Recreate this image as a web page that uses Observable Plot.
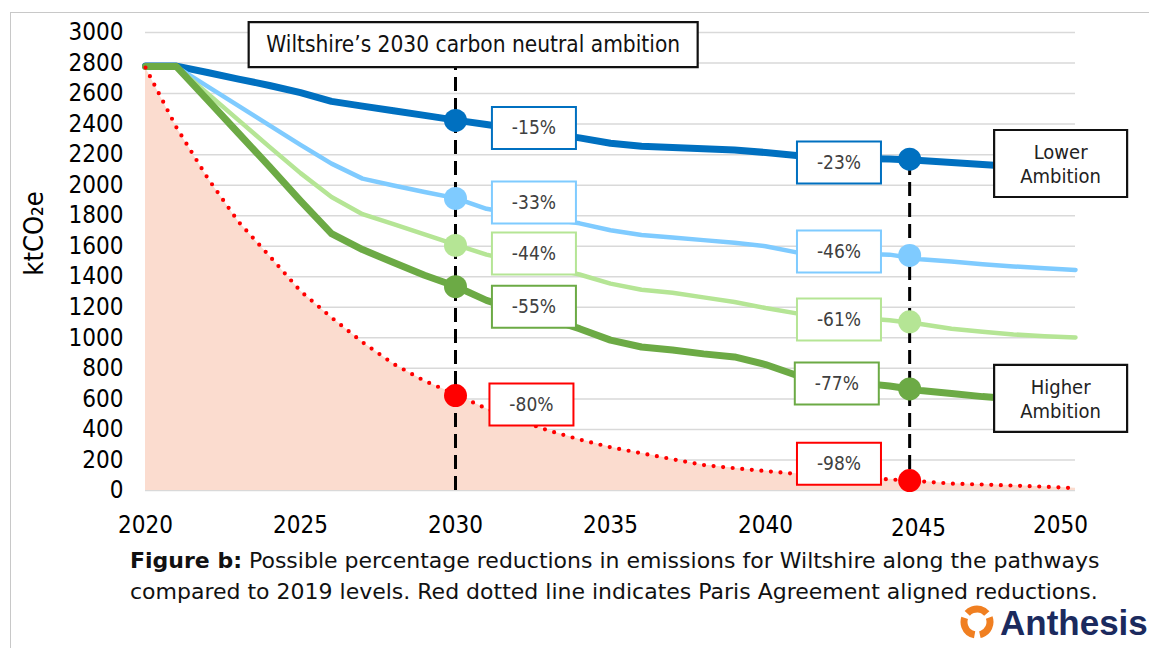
<!DOCTYPE html>
<html>
<head>
<meta charset="utf-8">
<script src="https://cdn.jsdelivr.net/npm/d3@7"></script>
<script src="https://cdn.jsdelivr.net/npm/@observablehq/plot@0.6"></script>
<style>
  body { margin: 0; background: #fff; width: 1149px; height: 648px; overflow: hidden; position: relative;
         font-family: "DejaVu Sans", sans-serif; }
  #frame { position: absolute; left: 10px; top: 12px; width: 1139px; height: 636px;
           border-top: 1.5px solid #c8c8c8; border-left: 1.5px solid #c8c8c8; box-sizing: border-box; }
  #chart { position: absolute; left: 0; top: 0; }
  #caption { position: absolute; left: 130px; top: 545px; font-size: 22px; line-height: 31px; color: #111; white-space: nowrap; }
  #logo { position: absolute; left: 960px; top: 603px; width: 189px; height: 40px; }
  #logo span { position: absolute; left: 40px; top: 2px; font-family: "Liberation Sans", Arial, sans-serif; font-weight: bold;
               font-size: 35px; line-height: 35px; color: #1b2a5e; }
</style>
</head>
<body>
<div id="frame"></div>
<div id="chart"></div>
<div id="caption"><b>Figure b:</b> Possible percentage reductions in emissions for Wiltshire along the pathways<br>compared to 2019 levels. Red dotted line indicates Paris Agreement aligned reductions.</div>
<div id="logo">
  <svg width="36" height="38" viewBox="0 0 36 38" style="position:absolute;left:0;top:0">
    <g transform="rotate(-20 17 19)">
      <circle cx="17" cy="19" r="13" fill="none" stroke="#f07f21" stroke-width="7" stroke-dasharray="22 5.2"></circle>
    </g>
  </svg>
  <span>Anthesis</span>
</div>
<script>
// ---- data ----
const years = [2020, 2021, 2022, 2023, 2024, 2025, 2026, 2027, 2028, 2029, 2030,
               2031, 2032, 2033, 2034, 2035, 2036, 2037, 2038, 2039, 2040,
               2041, 2042, 2043, 2044, 2045, 2046, 2047, 2048, 2049, 2050];

const lowerAmbition = [2780, 2780, 2738, 2695, 2653, 2606, 2549, 2518, 2488, 2457, 2426,
                       2397, 2368, 2339, 2310, 2275, 2255, 2247, 2238, 2230, 2214,
                       2194, 2182, 2175, 2172, 2162, 2148, 2135, 2122, 2112, 2102];
const midLower      = [2775, 2775, 2647, 2519, 2392, 2264, 2141, 2043, 1998, 1955, 1915,
                       1845, 1810, 1780, 1750, 1705, 1673, 1657, 1640, 1623, 1600,
                       1560, 1555, 1550, 1545, 1515, 1500, 1482, 1468, 1455, 1445];
const midHigher     = [2775, 2775, 2600, 2426, 2251, 2079, 1922, 1810, 1745, 1678, 1610,
                       1545, 1500, 1460, 1415, 1355, 1315, 1295, 1265, 1235, 1195,
                       1160, 1145, 1130, 1115, 1090, 1060, 1040, 1022, 1010, 1002];
const higherAmbition= [2777, 2777, 2558, 2340, 2121, 1897, 1682, 1578, 1493, 1410, 1338,
                       1245, 1180, 1125, 1060, 985, 940, 920, 895, 875, 825,
                       755, 725, 705, 685, 655, 635, 615, 600, 590, 580];
const parisAligned  = [2770, 2378, 2048, 1760, 1536, 1306, 1133, 971, 829, 718, 630,
                       536, 463, 393, 334, 283, 244, 205, 167, 146, 127,
                       109, 97, 85, 73, 60, 45, 39, 32, 25, 15];

const xTicks = [2020, 2025, 2030, 2035, 2040, 2045, 2050];
const yTicks = [0, 200, 400, 600, 800, 1000, 1200, 1400, 1600, 1800, 2000, 2200, 2400, 2600, 2800, 3000];

// milestone markers (years and values as drawn)
const milestoneYears = [2030, 2044.65];
const marker2030 = [2424, 1913, 1605, 1335, 622];
const marker2045 = [2170, 1540, 1105, 665, 65];

// percentage call-outs
const pctText   = ["-15%", "-33%", "-44%", "-55%", "-80%", "-23%", "-46%", "-61%", "-77%", "-98%"];
const pctSeries = [0, 1, 2, 3, 4, 0, 1, 2, 3, 4];

// ---- styles ----
const seriesColors = ["#0070C0", "#7FCBFF", "#B5E595", "#6CAA45", "#FF0000"];
const seriesWidths = [7, 4.5, 4.5, 7];
const FONT = "'DejaVu Sans Condensed', 'DejaVu Sans', sans-serif";

// annotation layout (x in years, y in ktCO2e)
const pctX = [2032.53, 2032.53, 2032.53, 2032.53, 2032.45, 2042.37, 2042.37, 2042.37, 2042.3, 2042.37];
const pctY = [2374, 1886, 1552, 1203, 563, 2148, 1565, 1120, 701, 175];
const titleBox = {text: "Wiltshire\u2019s 2030 carbon neutral ambition", x: 2030.57, y: 2920};
const ambitionBoxes = [
  {text: "Lower\nAmbition", x: 2049.52, y: 2142},
  {text: "Higher\nAmbition", x: 2049.52, y: 603}
];

// ---- tables ----
const pathways = [lowerAmbition, midLower, midHigher, higherAmbition];
const lineRows = pathways.map((vals, s) => years.map((yr, i) => ({year: yr, value: vals[i], s})));
const parisRows = years.map((yr, i) => ({year: yr, value: parisAligned[i]}));
const markerRows = [
  ...marker2030.map((v, s) => ({year: milestoneYears[0], value: v, color: seriesColors[s]})),
  ...marker2045.map((v, s) => ({year: milestoneYears[1], value: v, color: seriesColors[s]}))
];
const pctRows = pctText.map((t, i) => ({text: t, x: pctX[i], y: pctY[i], color: seriesColors[pctSeries[i]]}));
const milestoneRules = [
  {year: milestoneYears[0], top: titleBox.y},
  {year: milestoneYears[1], top: marker2045[0]}
];

const boxSymbol = (w, h) => ({draw(ctx) { ctx.rect(-w / 2, -h / 2, w, h); }});
const xAxisStyle = {tickSize: 0, tickPadding: 25, fontSize: 24, label: null, fill: "#000", tickFormat: d => String(d)};

const chart = Plot.plot({
  width: 1149,
  height: 540,
  marginLeft: 145,
  marginRight: 74,
  marginTop: 32,
  marginBottom: 50,
  style: {background: "transparent", overflow: "visible", fontFamily: FONT},
  x: {domain: [2020, 2050]},
  y: {domain: [0, 3000]},
  color: {type: "identity"},
  marks: [
    Plot.ruleY(yTicks, {stroke: "#D9D9D9", strokeWidth: 1.5}),
    Plot.areaY(parisRows, {x: "year", y: "value", fill: "#FBDCCF"}),
    Plot.ruleX(milestoneRules, {x: "year", y1: 0, y2: "top", stroke: "#000", strokeWidth: 3, strokeDasharray: "14 7"}),
    ...lineRows.map((rows, s) => Plot.line(rows, {x: "year", y: "value", stroke: seriesColors[s], strokeWidth: seriesWidths[s], strokeLinejoin: "round"})),
    Plot.line(parisRows, {x: "year", y: "value", stroke: seriesColors[4], strokeWidth: 4.2, strokeDasharray: "0 9.6", strokeLinecap: "round"}),
    Plot.dot(markerRows, {x: "year", y: "value", r: 11.5, fill: "color", stroke: "none"}),
    // percentage boxes
    Plot.dot(pctRows, {x: "x", y: "y", symbol: boxSymbol(84, 42), fill: "#fff", stroke: "color", strokeWidth: 2}),
    Plot.text(pctRows, {x: "x", y: "y", text: "text", fill: "#404040", fontSize: 19, fontFamily: FONT}),
    // title box
    Plot.dot([titleBox], {x: "x", y: "y", symbol: boxSymbol(449, 45), fill: "#fff", stroke: "#111", strokeWidth: 2.2}),
    Plot.text([titleBox], {x: "x", y: "y", text: "text", fill: "#111", fontSize: 22.5, fontFamily: FONT}),
    // ambition boxes
    Plot.dot(ambitionBoxes, {x: "x", y: "y", symbol: boxSymbol(133, 67), fill: "#fff", stroke: "#111", strokeWidth: 2.2}),
    Plot.text(ambitionBoxes, {x: "x", y: "y", text: "text", fill: "#222", fontSize: 20, lineHeight: 1.22, fontFamily: FONT}),
    // axes
    Plot.axisY({ticks: yTicks, tickSize: 0, tickPadding: 22, fontSize: 24, label: null, fill: "#000", tickFormat: d => String(d)}),
    Plot.axisX({...xAxisStyle, ticks: xTicks.slice(0, 5)}),
    Plot.axisX({...xAxisStyle, ticks: xTicks.slice(5, 6), dx: -2, dy: 3}),
    Plot.axisX({...xAxisStyle, ticks: xTicks.slice(6), dx: -15}),
    Plot.text(["ktCO\u2082e"], {frameAnchor: "left", textAnchor: "middle", dx: -111, dy: -28, rotate: -90, text: d => d, fontSize: 27, fill: "#000", fontFamily: FONT})
  ]
});
document.getElementById("chart").appendChild(chart);
</script>
</body>
</html>
